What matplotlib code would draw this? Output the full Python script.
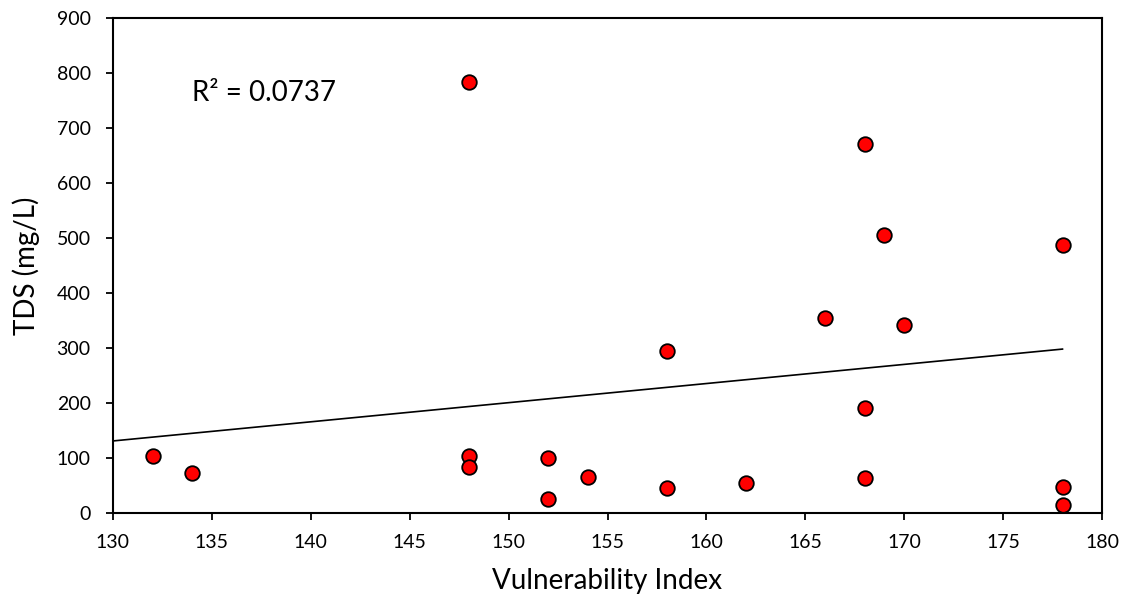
import numpy as np
import matplotlib
matplotlib.use("Agg")
import matplotlib.pyplot as plt

plt.rcParams['font.family'] = ['Lato', 'DejaVu Sans']

vuln = [132, 134, 148, 148, 148, 152, 152, 154, 158, 158,
        162, 166, 168, 168, 168, 169, 170, 178, 178, 178]
tds = [104, 72, 783, 103, 83, 100, 25, 65, 295, 46,
       54, 355, 671, 191, 64, 505, 342, 487, 48, 14]

# linear trendline as shown on the chart
trend_slope = 3.48
trend_intercept = -321.4
trend_range = [130, 178]
r2_label = "R² = 0.0737"

fig = plt.figure(figsize=(11.33, 6), dpi=100)
ax = fig.add_axes([0.0997, 0.145, 0.873, 0.825])

xs = np.array(trend_range, dtype=float)
ax.plot(xs, trend_slope * xs + trend_intercept, color="black", lw=1.2, zorder=2)
ax.scatter(vuln, tds, s=110, color="#ff0000", edgecolor="black", linewidth=1.3, zorder=3)

ax.set_xlim(130, 180)
ax.set_ylim(0, 900)
ax.set_xticks(range(130, 181, 5))
ax.set_yticks(range(0, 901, 100))
ax.tick_params(direction="out", length=5, width=1.3, labelsize=14)
ax.tick_params(axis="x", pad=10)
ax.tick_params(axis="y", pad=11)
for s in ax.spines.values():
    s.set_linewidth(1.5)

ax.set_xlabel("Vulnerability Index", fontsize=20, labelpad=12)
ax.set_ylabel("TDS (mg/L)", fontsize=20, labelpad=12)
ax.text(134.0, 764, r2_label, fontsize=20, va="center")

fig.savefig("out.png", dpi=100)
